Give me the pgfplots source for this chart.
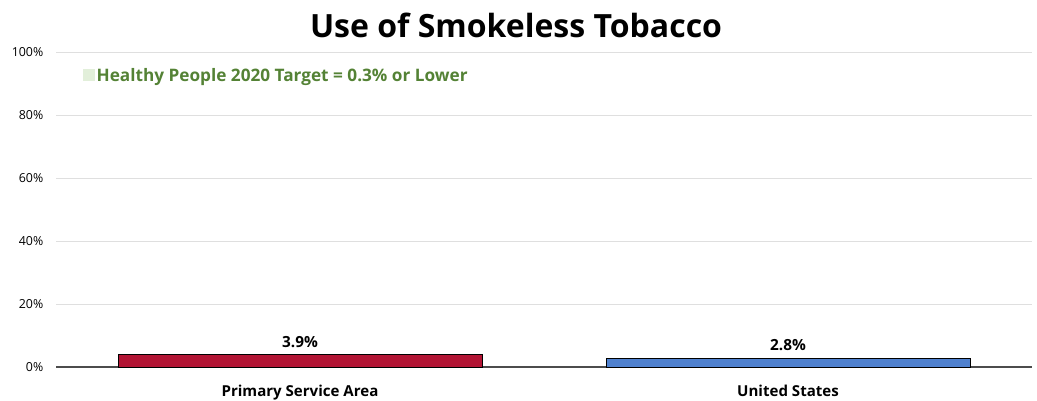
\documentclass[border=0pt]{standalone}
\usepackage{pgfplots}
\pgfplotsset{compat=1.18}
\usepackage{fontspec}
\setmainfont{Open Sans}
\definecolor{barred}{RGB}{178,20,52}
\definecolor{barblue}{RGB}{79,129,207}
\definecolor{hpgreen}{RGB}{84,130,53}
\definecolor{hpsq}{RGB}{226,239,218}
\begin{document}
\begin{tikzpicture}[x=1pt,y=1pt]
\useasboundingbox (-42,-24.75) rectangle (735.75,275.25);
\node[font=\bfseries\fontsize{24}{28}\selectfont, anchor=center] at (345,256) {Use of Smokeless Tobacco};
\begin{axis}[
  at={(0,0)}, anchor=south west,
  scale only axis,
  width=732pt, height=236.25pt,
  xmin=-0.5, xmax=1.5,
  ymin=0, ymax=100,
  ytick={0,20,40,60,80,100},
  yticklabel={\pgfmathprintnumber{\tick}\%},
  yticklabel style={font=\fontsize{9.3}{11}\selectfont, xshift=-6pt},
  /pgf/number format/assume math mode=true,
  xtick={0,1},
  xticklabels={Primary Service Area, United States},
  xticklabel style={font=\bfseries\fontsize{11.3}{13}\selectfont, yshift=-10pt},
  major tick length=0pt,
  ymajorgrids,
  grid style={gray!25, line width=0.5pt},
  axis x line*=bottom,
  axis y line*=left,
  y axis line style={draw=none},
  x axis line style={black!70, line width=0.8pt, -},
  ybar, bar width=0.746, bar shift=0pt,
  nodes near coords={\pgfmathprintnumber[fixed,precision=1,fixed zerofill]{\pgfplotspointmeta}\%},
  nodes near coords style={font=\bfseries\fontsize{11.5}{13}\selectfont, black, yshift=2pt},
  clip=false,
]
\addplot[fill=barred, draw=black, line width=0.6pt] coordinates {(0,3.9)};
\addplot[fill=barblue, draw=black, line width=0.6pt] coordinates {(1,2.8)};
\node[anchor=west, inner sep=0pt, font=\bfseries\fontsize{12.9}{15}\selectfont, text=hpgreen] at (rel axis cs:0.027,0.92) {\textcolor{hpsq}{\rule[0.5pt]{9pt}{9pt}}\hspace{1.5pt}Healthy People 2020 Target = 0.3\% or Lower};
\end{axis}
\end{tikzpicture}
\end{document}
